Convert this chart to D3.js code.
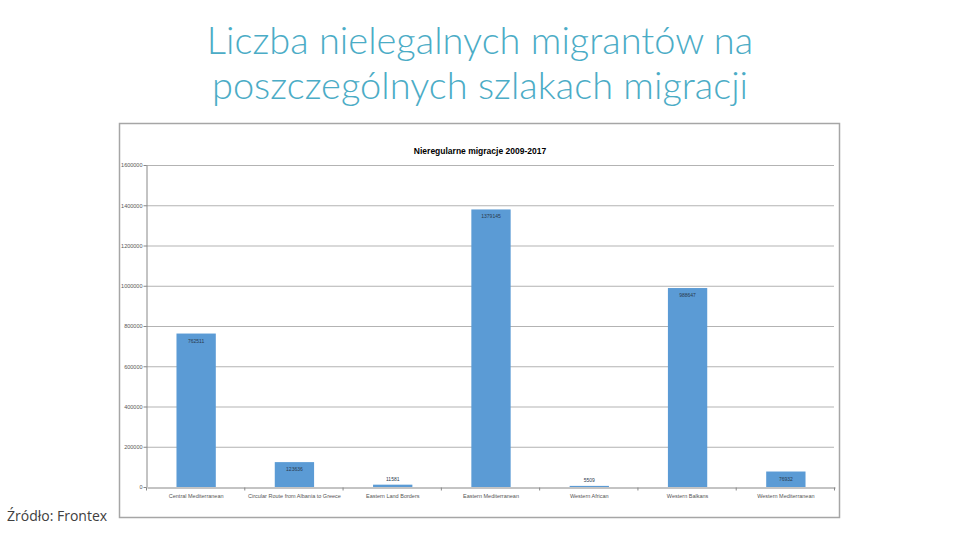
<!DOCTYPE html>
<html>
<head>
<meta charset="utf-8">
<script src="https://cdn.jsdelivr.net/npm/d3@7"></script>
<style>
  body { margin: 0; background: #fff; }
  svg { display: block; }
</style>
</head>
<body>
<svg id="chart" width="960" height="540"></svg>
<script>
const routes = [
  "Central Mediterranean",
  "Circular Route from Albania to Greece",
  "Eastern Land Borders",
  "Eastern Mediterranean",
  "Western African",
  "Western Balkans",
  "Western Mediterranean",
];
const migrants = [762511, 123636, 11581, 1379145, 5509, 988647, 76932];
const yTicks = [0, 200000, 400000, 600000, 800000, 1000000, 1200000, 1400000, 1600000];

const data = routes.map((r, i) => ({ route: r, value: migrants[i] }));

const svg = d3.select("#chart");

// slide title, two lines
const titleLines = ["Liczba nielegalnych migrantów na", "poszczególnych szlakach migracji"];
svg
  .append("g")
  .selectAll("text")
  .data(titleLines)
  .enter()
  .append("text")
  .attr("x", 480)
  .attr("y", (d, i) => 54 + i * 45)
  .attr("text-anchor", "middle")
  .style("font-family", "Lato, sans-serif")
  .style("font-weight", "300")
  .style("font-size", "38px")
  .style("fill", "#4bacc6")
  .text((d) => d);

svg
  .append("text")
  .attr("x", 7)
  .attr("y", 521)
  .style("font-family", "'Open Sans', sans-serif")
  .style("font-size", "14px")
  .style("fill", "#404040")
  .text("Źródło: Frontex");

// chart frame
svg
  .append("rect")
  .attr("x", 119.5)
  .attr("y", 123.5)
  .attr("width", 720)
  .attr("height", 394)
  .attr("fill", "#fff")
  .attr("stroke", "#a6a6a6")
  .attr("stroke-width", 1.5);

svg
  .append("text")
  .attr("x", 480)
  .attr("y", 154)
  .attr("text-anchor", "middle")
  .style("font-family", "'Liberation Sans', Arial, sans-serif")
  .style("font-weight", "bold")
  .style("font-size", "8.5px")
  .style("fill", "#000")
  .text("Nieregularne migracje 2009-2017");

const xScale = d3.scaleBand().domain(routes).range([146, 834]).paddingInner(0.6).paddingOuter(0.3);
const yScale = d3.scaleLinear().domain([0, 1600000]).range([487, 165]);

// gridlines
svg
  .append("g")
  .selectAll("line")
  .data(yTicks.slice(1))
  .enter()
  .append("line")
  .attr("x1", 146)
  .attr("x2", 834)
  .attr("y1", (d) => yScale(d) + 0.5)
  .attr("y2", (d) => yScale(d) + 0.5)
  .attr("stroke", "#b3b3b3")
  .attr("stroke-width", 1);

// bars
svg
  .append("g")
  .selectAll("rect")
  .data(data)
  .enter()
  .append("rect")
  .attr("x", (d) => xScale(d.route) + 1)
  .attr("y", (d) => yScale(d.value))
  .attr("width", xScale.bandwidth())
  .attr("height", (d) => yScale(0) - yScale(d.value))
  .attr("fill", "#5b9bd5");

// value labels
svg
  .append("g")
  .selectAll("text")
  .data(data)
  .enter()
  .append("text")
  .attr("x", (d) => xScale(d.route) + 1 + xScale.bandwidth() / 2)
  .attr("y", (d) => (d.value > 50000 ? yScale(d.value) + 9 : yScale(d.value) - 4))
  .attr("text-anchor", "middle")
  .style("font-family", "'Liberation Sans', Arial, sans-serif")
  .style("font-size", "5px")
  .style("fill", "#2a3a4d")
  .text((d) => d.value);

// y axis
const yAxis = d3.axisLeft(yScale).tickValues(yTicks).tickSize(3).tickSizeOuter(0).tickFormat(d3.format("d"));
const yg = svg.append("g").attr("transform", "translate(146.5,0)").call(yAxis);
yg.select(".domain").attr("stroke", "#888");
yg.selectAll(".tick line").attr("stroke", "#888");
yg.selectAll(".tick text")
  .attr("x", -4)
  .style("font-family", "'Liberation Sans', Arial, sans-serif")
  .style("font-size", "5.5px")
  .style("fill", "#555");

// x axis
const xAxis = d3.axisBottom(xScale).tickSize(0).tickSizeOuter(0);
const xg = svg.append("g").attr("transform", "translate(1,487.5)").call(xAxis);
xg.select(".domain").attr("stroke", "#888");
xg.selectAll(".tick text")
  .attr("dy", "0")
  .attr("y", 10)
  .style("font-family", "'Liberation Sans', Arial, sans-serif")
  .style("font-size", "5.5px")
  .style("fill", "#555");

// category separators
svg
  .append("g")
  .selectAll("line")
  .data(d3.range(routes.length + 1))
  .enter()
  .append("line")
  .attr("x1", (i) => 146.5 + i * (688 / routes.length))
  .attr("x2", (i) => 146.5 + i * (688 / routes.length))
  .attr("y1", 487.5)
  .attr("y2", 490.5)
  .attr("stroke", "#888");
</script>
</body>
</html>
